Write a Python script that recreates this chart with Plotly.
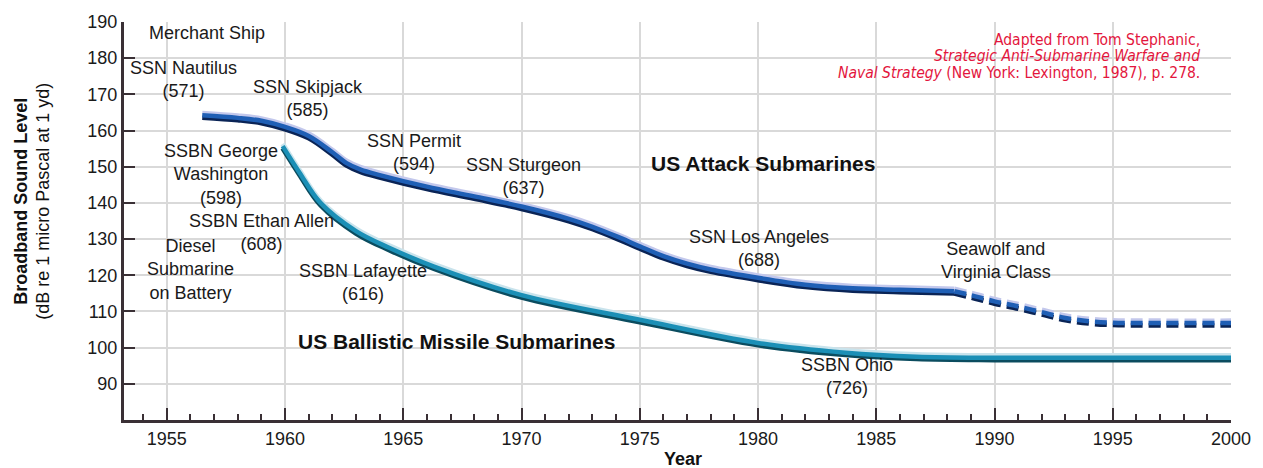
import plotly.graph_objects as go

# ---- data ----
attack_years = [1956.5, 1958, 1959, 1960, 1961, 1962, 1962.6, 1963.2, 1964, 1966, 1968, 1970,
                1972, 1973, 1974, 1975, 1976, 1977, 1978, 1980, 1982, 1984, 1986, 1988.3]
attack_level = [164.2, 163.5, 162.7, 161.0, 158.5, 154.0, 151.0, 149.2, 147.7, 144.5, 141.8, 139.0,
                135.6, 133.4, 130.8, 128.0, 125.3, 123.2, 121.6, 119.3, 117.4, 116.4, 116.0, 115.6]

future_years = [1988.3, 1989, 1990, 1991, 1992, 1993, 1994, 1995, 1997, 2000]
future_level = [115.6, 114.5, 112.8, 111.4, 109.8, 108.2, 107.3, 106.9, 106.8, 106.8]

ssbn_years = [1959.9, 1960.6, 1961.5, 1963, 1964.4, 1966.3, 1970, 1975, 1980, 1983.7, 1986.7, 1990, 2000]
ssbn_level = [155.7, 148.5, 140.0, 132.2, 127.6, 122.4, 114.5, 107.7, 101.3, 98.6, 97.5, 97.2, 97.2]

x_ticks = [1955, 1960, 1965, 1970, 1975, 1980, 1985, 1990, 1995, 2000]
y_ticks = [90, 100, 110, 120, 130, 140, 150, 160, 170, 180, 190]

labels = [
    ("Merchant Ship", 1956.72, 186.9),
    ("SSN Nautilus<br>(571)", 1955.71, 174.1),
    ("SSN Skipjack<br>(585)", 1960.95, 168.9),
    ("SSN Permit<br>(594)", 1965.45, 153.9),
    ("SSN Sturgeon<br>(637)", 1970.1, 147.4),
    ("SSBN George<br>Washington<br>(598)", 1957.31, 147.8),
    ("SSBN Ethan Allen<br>(608)", 1959.0, 131.9),
    ("Diesel<br>Submarine<br>on Battery", 1956.0, 121.6),
    ("SSBN Lafayette<br>(616)", 1963.3, 118.1),
    ("SSN Los Angeles<br>(688)", 1980.05, 127.4),
    ("Seawolf and<br>Virginia Class", 1990.05, 124.0),
    ("SSBN Ohio<br>(726)", 1983.75, 92.0),
]
bold_labels = [
    ("US Attack Submarines", 1980.2, 151.0),
    ("US Ballistic Missile Submarines", 1967.24, 101.8),
]
source_lines = [
    "Adapted from Tom Stephanic,",
    "<i>Strategic Anti-Submarine Warfare and</i>",
    "<i>Naval Strategy</i> (New York: Lexington, 1987), p. 278.",
]

FONT = "Liberation Sans, Arial, Helvetica, sans-serif"
AXIS = "#3a3035"
GRID = "#d9d9d9"

fig = go.Figure()


def tube(xs, ys, light, mid, dark, dash="solid", off=0.6):
    for yy, col, w in ((
            [v - off for v in ys], dark, 5),
            ([v + off for v in ys], light, 5),
            (ys, mid, 4.5)):
        fig.add_trace(go.Scatter(x=xs, y=yy, mode="lines",
                                 line=dict(color=col, width=w, shape="spline", smoothing=1.0, dash=dash),
                                 hoverinfo="skip", showlegend=False))


tube(ssbn_years, ssbn_level, "#c9e3ec", "#1b8fb6", "#0b4c5f")
tube(attack_years, attack_level, "#c3c8ec", "#1f5fb5", "#0a2456")
tube(future_years, future_level, "#c3c8ec", "#1f5fb5", "#0a2456", dash="12px,6px")

ann = []
for t, x, y in labels:
    ann.append(dict(text=t, x=x, y=y, xref="x", yref="y", showarrow=False,
                    font=dict(size=18, color="#1a1a1a", family=FONT), align="center"))
for t, x, y in bold_labels:
    ann.append(dict(text="<b>" + t + "</b>", x=x, y=y, xref="x", yref="y", showarrow=False,
                    font=dict(size=21, color="#111111", family=FONT)))

src_y_px = [34, 51, 68]
for t, ypx in zip(source_lines, src_y_px):
    ann.append(dict(text=t, x=(1208 - 124) / 1113, y=(420 - ypx) / 404, xref="paper", yref="paper",
                    xanchor="right", yanchor="middle", showarrow=False, align="right",
                    font=dict(size=15.5, color="#e3163d",
                              family="Liberation Sans Narrow, DejaVu Sans Condensed, Arial Narrow, sans-serif")))

# axis titles
ann.append(dict(text="<b>Broadband Sound Level</b>", x=(21 - 124) / 1113, y=(420 - 198) / 404,
                xref="paper", yref="paper", textangle=-90, showarrow=False,
                xanchor="center", yanchor="middle", font=dict(size=18, color="#111111", family=FONT)))
ann.append(dict(text="(dB re 1 micro Pascal at 1 yd)", x=(43 - 124) / 1113, y=(420 - 198) / 404,
                xref="paper", yref="paper", textangle=-90, showarrow=False,
                xanchor="center", yanchor="middle", font=dict(size=18, color="#111111", family=FONT)))
ann.append(dict(text="<b>Year</b>", x=(686 - 124) / 1113, y=(420 - 460) / 404,
                xref="paper", yref="paper", showarrow=False,
                xanchor="center", yanchor="middle", font=dict(size=18, color="#111111", family=FONT)))

fig.update_layout(
    width=1263, height=468,
    margin=dict(l=124, r=26, t=16, b=48),
    paper_bgcolor="white", plot_bgcolor="white",
    font=dict(family=FONT, size=18, color="#1a1a1a"),
    annotations=ann,
    xaxis=dict(range=[1953.19, 2000], tickvals=x_ticks, showgrid=True, gridcolor=GRID, gridwidth=1.5,
               showline=True, linecolor=AXIS, linewidth=3, ticks="inside", ticklen=12, tickwidth=1.5,
               tickcolor=AXIS, zeroline=False, tickfont=dict(size=18, color="#1a1a1a"),
               minor=dict(dtick=1, tick0=1955, ticks="inside", ticklen=6, tickwidth=1.5,
                          tickcolor=AXIS, showgrid=False)),
    yaxis=dict(range=[80, 190], tickvals=y_ticks, showgrid=True, gridcolor=GRID, gridwidth=1.5,
               showline=True, linecolor=AXIS, linewidth=3, ticks="inside", ticklen=11, tickwidth=1.5,
               tickcolor=AXIS, zeroline=False, tickfont=dict(size=18, color="#1a1a1a")),
)

fig.write_html("out.html", config={"displayModeBar": False},
               post_script="document.body.style.margin='0';document.body.style.overflow='hidden';")
